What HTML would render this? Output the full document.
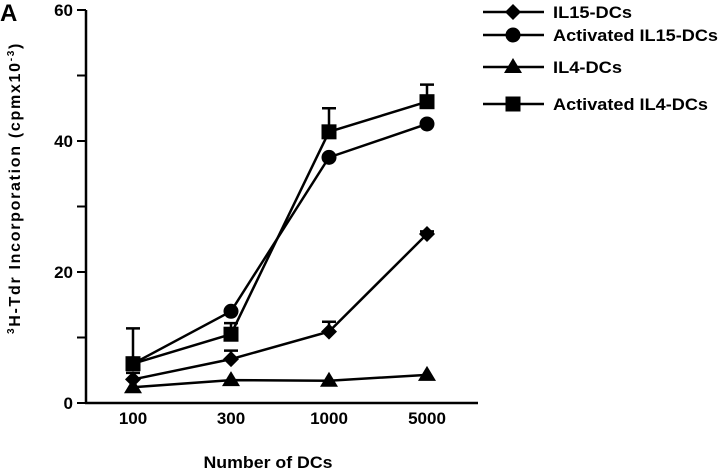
<!DOCTYPE html>
<html><head><meta charset="utf-8"><style>
html,body{margin:0;padding:0;background:#fff;}
svg{display:block;font-family:"Liberation Sans",Arial,sans-serif;font-weight:bold;}
</style></head><body>
<svg id="chart" width="720" height="472" viewBox="0 0 720 472">
<text x="0" y="21" font-size="24">A</text>
<text transform="translate(20,188) rotate(-90)" text-anchor="middle" font-size="16" letter-spacing="1.7"><tspan font-size="10" dy="-6">3</tspan><tspan dy="6">H-Tdr Incorporation (cpmx10</tspan><tspan font-size="10" dy="-6">-3</tspan><tspan dy="6">)</tspan></text>
<text x="268" y="468" text-anchor="middle" font-size="17" textLength="129" lengthAdjust="spacingAndGlyphs">Number of DCs</text>
<g id="axes"></g><g id="series"></g><g id="legend"></g>
</svg>
<script>
const categories = ["100","300","1000","5000"];
const yTicks = [0,10,20,30,40,50,60];
const yTickLabels = ["0","","20","","40","","60"];
const seriesNames = ["IL15-DCs","Activated IL15-DCs","IL4-DCs","Activated IL4-DCs"];
const seriesMarkers = ["diamond","circle","triangle","square"];
const il15Values = [3.6,6.7,10.9,25.8];
const il15Err = [4.6,8.0,12.4,26.2];
const actIl15Values = [6.0,14.0,37.5,42.6];
const actIl15Err = [6.0,14.0,37.5,42.6];
const il4Values = [2.4,3.5,3.4,4.3];
const il4Err = [2.4,3.5,3.4,4.3];
const actIl4Values = [6.0,10.5,41.4,46.0];
const actIl4Err = [11.4,12.2,45.0,48.6];

const NS="http://www.w3.org/2000/svg";
const xPos=i=>133+i*98;
const yPos=v=>403-v*6.55;
function mk(tag,attrs,parent){const e=document.createElementNS(NS,tag);for(const k in attrs)e.setAttribute(k,attrs[k]);parent.appendChild(e);return e;}
const axes=document.getElementById('axes');
let yl=mk('line',{x1:86,y1:yPos(60),x2:86,y2:yPos(0)+1,stroke:'#000','stroke-width':2.5},axes);


let xl=mk('line',{x1:85,y1:yPos(0),x2:478,y2:yPos(0),stroke:'#000','stroke-width':2.5},axes);


yTicks.forEach((t,i)=>{
  const tk=mk('line',{x1:77,y1:yPos(t),x2:86,y2:yPos(t),stroke:'#000','stroke-width':2},axes);
  
  
  if(yTickLabels[i]){const tx=mk('text',{x:73,y:yPos(t)+6,'text-anchor':'end','font-size':17},axes);tx.textContent=yTickLabels[i];
  
  }
});
categories.forEach((c,i)=>{const tx=mk('text',{x:xPos(i),y:424,'text-anchor':'middle','font-size':17},axes);tx.textContent=c;
  
  });
function marker(type,x,y,parent){
  let e;
  if(type==='diamond')e=mk('polygon',{points:`${x},${y-8} ${x+8},${y} ${x},${y+8} ${x-8},${y}`},parent);
  else if(type==='circle')e=mk('circle',{cx:x,cy:y,r:7.5},parent);
  else if(type==='triangle')e=mk('polygon',{points:`${x},${y-9} ${x+9},${y+6} ${x-9},${y+6}`},parent);
  else e=mk('rect',{x:x-7.5,y:y-7.5,width:15,height:15},parent);
  e.setAttribute('fill','#000');
  return e;
}
const allVals=[il15Values,actIl15Values,il4Values,actIl4Values];
const allErr=[il15Err,actIl15Err,il4Err,actIl4Err];
const sg=document.getElementById('series');
allVals.forEach((vals,s)=>{
  const g=mk('g',{},sg);
  
  
  const pl=mk('polyline',{points:vals.map((v,i)=>xPos(i)+','+yPos(v)).join(' '),fill:'none',stroke:'#000','stroke-width':2.5},g);
  
  
  vals.forEach((v,i)=>{
    const e=allErr[s][i];
    if(e>v+0.3){
      const el=mk('path',{d:`M${xPos(i)},${yPos(v)}V${yPos(e)}M${xPos(i)-7},${yPos(e)}H${xPos(i)+7}`,stroke:'#000','stroke-width':2.5,fill:'none'},g);
      
      
    }
    const m=marker(seriesMarkers[s],xPos(i),yPos(v),g);
    
    
  });
});
const lg=document.getElementById('legend');
const legY=[12,35,67,104];
const legW=[79,165,69,155];
seriesNames.forEach((n,s)=>{
  const g=mk('g',{},lg);
  
  
  mk('line',{x1:483,y1:legY[s],x2:544,y2:legY[s],stroke:'#000','stroke-width':2.5},g);
  marker(seriesMarkers[s],513,legY[s],g);
  const t=mk('text',{x:553,y:legY[s]+6,'font-size':17,textLength:legW[s],lengthAdjust:'spacingAndGlyphs'},g);t.textContent=n;
});
</script>
</body></html>
